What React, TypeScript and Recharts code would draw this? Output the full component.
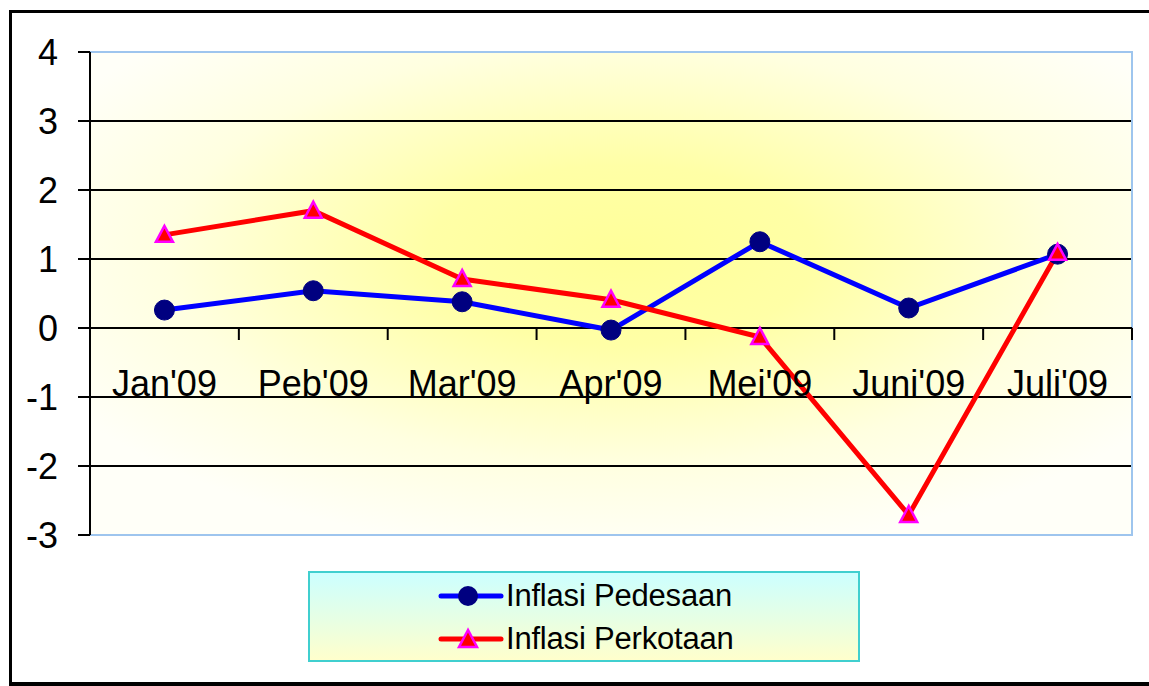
import React from 'react';
import { LineChart, Line, XAxis, YAxis, CartesianGrid, ReferenceLine, ReferenceArea, Legend } from 'recharts';

const categories = ["Jan'09", "Peb'09", "Mar'09", "Apr'09", "Mei'09", "Juni'09", "Juli'09"];
const pedesaan = [0.26, 0.54, 0.38, -0.03, 1.25, 0.29, 1.07];
const perkotaan = [1.35, 1.7, 0.71, 0.41, -0.13, -2.71, 1.09];
const yTicks = [-3, -2, -1, 0, 1, 2, 3, 4];
const seriesNames = ['Inflasi Pedesaan', 'Inflasi Perkotaan'];

const data = categories.map((c, i) => ({ cat: c, pedesaan: pedesaan[i], perkotaan: perkotaan[i] }));

const FONT = '"Liberation Sans", Arial, sans-serif';
const W = 1149;
const H = 686;
const MARGIN = { top: 52, right: 17, left: 0, bottom: 150 };
const X_AXIS_H = 1;
const Y_AXIS_W = 90;
const Y_MIN = yTicks[0];
const Y_MAX = yTicks[yTicks.length - 1];
const PLOT_TOP = MARGIN.top;
const PLOT_BOTTOM = H - MARGIN.bottom - X_AXIS_H;
const ZERO_Y = PLOT_TOP + ((Y_MAX - 0) / (Y_MAX - Y_MIN)) * (PLOT_BOTTOM - PLOT_TOP);
const HALF_BAND = (W - MARGIN.right - Y_AXIS_W) / categories.length / 2;

const XTick = (props: any) => {
  const { x, payload, index } = props;
  const off = payload && typeof payload.offset === 'number' && payload.offset > 0 ? payload.offset : HALF_BAND;
  const last = index === categories.length - 1;
  return (
    <g>
      <line x1={x - off} x2={x - off} y1={ZERO_Y} y2={ZERO_Y + 12} stroke="#000" strokeWidth={2} />
      {last && <line x1={x + off} x2={x + off} y1={ZERO_Y} y2={ZERO_Y + 12} stroke="#000" strokeWidth={2} />}
      <text x={x} y={ZERO_Y + 68} textAnchor="middle" fontSize={36} fontFamily={FONT} fill="#000">
        {payload.value}
      </text>
    </g>
  );
};

const CircleDot = (p: any) => {
  if (p.cx == null || p.cy == null) return <g key={`c-${p.index}`} />;
  return <circle key={`c-${p.index}`} cx={p.cx} cy={p.cy} r={10} fill="#000080" stroke="#000080" strokeWidth={1} />;
};

const TriDot = (p: any) => {
  if (p.cx == null || p.cy == null) return <g key={`t-${p.index}`} />;
  const { cx, cy } = p;
  return (
    <polygon
      key={`t-${p.index}`}
      points={`${cx},${cy - 9} ${cx - 8.5},${cy + 7} ${cx + 8.5},${cy + 7}`}
      fill="#FF0000"
      stroke="#FF00FF"
      strokeWidth={2.5}
      strokeLinejoin="miter"
    />
  );
};

const LegendIcon = ({ kind, color }: { kind: string; color: string }) => (
  <svg width={66} height={28} style={{ display: 'block' }}>
    <line x1={3} x2={63} y1={14} y2={14} stroke={color} strokeWidth={5} strokeLinecap="round" />
    {kind === 'circle' ? (
      <circle cx={30} cy={14} r={10} fill="#000080" />
    ) : (
      <polygon points="30,5 21,22 39,22" fill="#FF0000" stroke="#FF00FF" strokeWidth={2.5} />
    )}
  </svg>
);

const LegendBox = (props: any) => {
  const payload = (props && props.payload) || [];
  const items = payload.length
    ? payload.map((e: any, i: number) => ({ name: e.value, color: e.color, kind: i === 0 ? 'circle' : 'tri' }))
    : seriesNames.map((n, i) => ({ name: n, color: i === 0 ? '#0000FF' : '#FF0000', kind: i === 0 ? 'circle' : 'tri' }));
  return (
    <div
      style={{
        boxSizing: 'border-box',
        width: 552,
        height: 91,
        border: '2px solid #40CFCF',
        background: 'linear-gradient(to bottom, #CCFFFF 0%, #FFFFCC 100%)',
        display: 'flex',
        flexDirection: 'column',
        paddingTop: 1,
      }}
    >
      {items.map((it: any) => (
        <div key={it.name} style={{ height: 43, display: 'flex', alignItems: 'center', paddingLeft: 128 }}>
          <LegendIcon kind={it.kind} color={it.color} />
          <span
            style={{
              marginLeft: 2,
              fontFamily: FONT,
              fontSize: 31,
              color: '#000',
              lineHeight: '31px',
              letterSpacing: '-0.2px',
            }}
          >
            {it.name}
          </span>
        </div>
      ))}
    </div>
  );
};

export default function App() {
  return (
    <div style={{ position: 'absolute', left: 0, top: 0, width: W, height: H, overflow: 'hidden', background: '#fff' }}>
      <div
        style={{
          position: 'absolute',
          left: 9,
          top: 10,
          width: W + 20,
          height: 676,
          boxSizing: 'border-box',
          borderLeft: '3px solid #000',
          borderTop: '3px solid #000',
          borderBottom: '4px solid #000',
        }}
      />
      <div style={{ position: 'absolute', left: 0, top: 0 }}>
        <LineChart width={W} height={H} data={data} margin={MARGIN}>
          <defs>
            <radialGradient id="plotBg" cx="0.51" cy="0.42" r="0.62" fx="0.51" fy="0.42">
              <stop offset="0%" stopColor="#FFFF99" />
              <stop offset="30%" stopColor="#FFFFA6" />
              <stop offset="70%" stopColor="#FFFFE0" />
              <stop offset="100%" stopColor="#FFFFF8" />
            </radialGradient>
          </defs>
          <CartesianGrid vertical={false} stroke="#000" strokeWidth={2} fill="url(#plotBg)" fillOpacity={1} />
          <ReferenceArea y1={Y_MIN} y2={Y_MAX} fill="none" stroke="#9EC5EE" strokeWidth={2} ifOverflow="visible" />
          <ReferenceLine y={0} stroke="#000" strokeWidth={2} />
          <XAxis
            dataKey="cat"
            type="category"
            scale="band"
            height={X_AXIS_H}
            axisLine={false}
            tickLine={false}
            interval={0}
            tick={<XTick />}
          />
          <YAxis
            type="number"
            domain={[Y_MIN, Y_MAX]}
            ticks={yTicks}
            width={Y_AXIS_W}
            interval={0}
            tickSize={12}
            tickMargin={20}
            axisLine={{ stroke: '#000', strokeWidth: 2 }}
            tickLine={{ stroke: '#000', strokeWidth: 2 }}
            tick={{ fontSize: 36, fill: '#000', fontFamily: FONT }}
          />
          <Legend
            layout="vertical"
            align="center"
            verticalAlign="middle"
            content={<LegendBox />}
            wrapperStyle={{ position: 'absolute', left: 308, top: 571, width: 552, height: 91 }}
          />
          <Line
            type="linear"
            dataKey="pedesaan"
            name={seriesNames[0]}
            stroke="#0000FF"
            strokeWidth={5}
            dot={CircleDot}
            activeDot={false}
            isAnimationActive={false}
          />
          <Line
            type="linear"
            dataKey="perkotaan"
            name={seriesNames[1]}
            stroke="#FF0000"
            strokeWidth={5}
            dot={TriDot}
            activeDot={false}
            isAnimationActive={false}
          />
        </LineChart>
      </div>
    </div>
  );
}
